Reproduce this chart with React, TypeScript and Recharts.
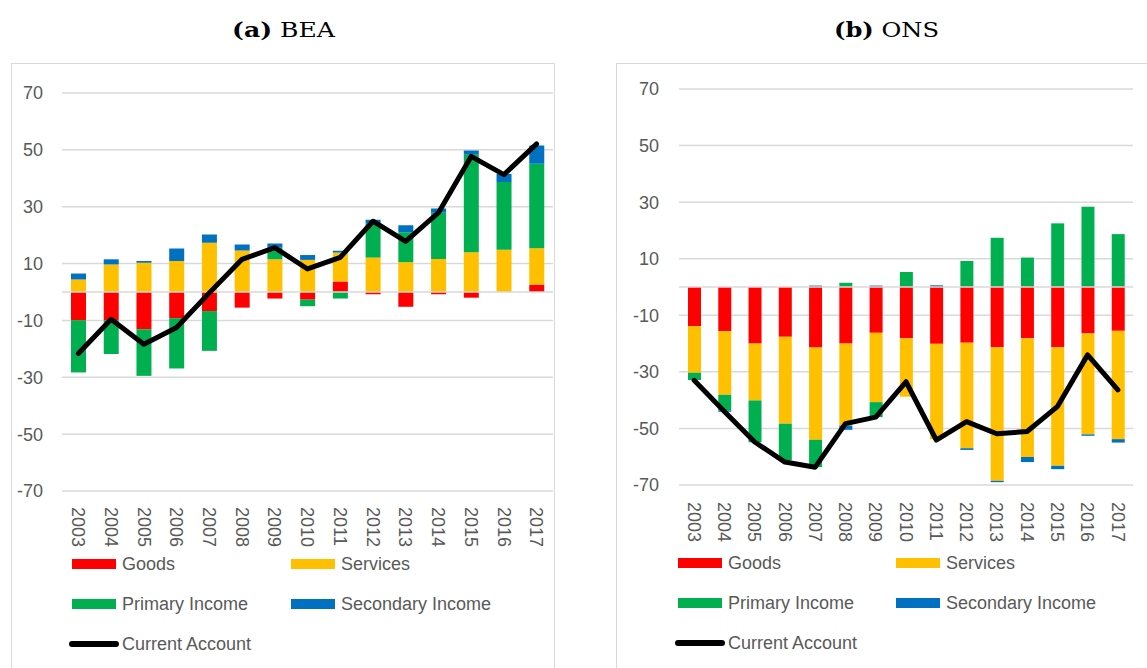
import React from 'react';
import { ComposedChart, Bar, Line, XAxis, YAxis, CartesianGrid, ReferenceLine } from 'recharts';

const years = ['2003', '2004', '2005', '2006', '2007', '2008', '2009', '2010', '2011', '2012', '2013', '2014', '2015', '2016', '2017'];
const yTicks = [-70, -50, -30, -10, 10, 30, 50, 70];

// (a) BEA
const beaGoods = [-9.9, -9.9, -13.1, -9.2, -6.7, -5.5, -2.3, -2.7, 3.7, -0.8, -5.2, -0.8, -2.0, 0, 2.6];
const beaServices = [4.4, 9.7, 10.3, 10.9, 17.3, 14.6, 11.5, 11.3, 10.2, 12.1, 10.5, 11.6, 14.0, 14.9, 12.8];
const beaPrimary = [-18.4, -11.9, -16.4, -17.7, -14.0, 0, 4.1, -2.3, -2.3, 12.1, 10.5, 16.3, 34.3, 23.8, 29.7];
const beaSecondary = [2.1, 1.8, 0.6, 4.4, 2.9, 2.1, 1.5, 1.7, 0.6, 1.2, 2.5, 1.5, 1.5, 2.8, 6.4];
const beaCurrent = [-21.6, -9.6, -18.4, -12.5, -0.3, 11.5, 15.6, 8.1, 12.2, 24.9, 17.8, 27.9, 47.7, 41.3, 52.1];

// (b) ONS
const onsGoods = [-13.8, -15.6, -20.0, -17.6, -21.4, -20.0, -16.2, -18.1, -20.1, -19.7, -21.3, -18.1, -21.3, -16.4, -15.5];
const onsServices = [-16.5, -22.5, -20.1, -30.7, -32.6, -29.0, -24.5, -20.7, -33.6, -37.3, -47.2, -42.0, -41.9, -35.7, -38.3];
const onsPrimary = [-2.6, -5.5, -14.8, -13.0, -9.7, 1.5, -5.3, 5.3, 0, 9.2, 17.4, 10.4, 22.5, 28.4, 18.7];
const onsSecondary = [0, -0.5, 0, 0, 0.5, -1.5, 0.5, 0, 0.6, -0.6, -0.5, -1.8, -1.2, -0.5, -1.2];
const onsCurrent = [-33.0, -44.0, -54.8, -61.9, -63.7, -48.3, -46.0, -33.5, -54.1, -47.6, -51.9, -51.1, -42.3, -24.0, -36.4];

const COLORS = {
  goods: '#FF0000',
  services: '#FFC000',
  primary: '#00B050',
  secondary: '#0070C0',
  current: '#000000',
};

const LABEL_FONT = '"Liberation Sans", Arial, sans-serif';
const TEXT_COLOR = '#595959';

const build = (g: number[], s: number[], p: number[], sec: number[], ca: number[]) =>
  years.map((year, i) => ({ year, goods: g[i], services: s[i], primary: p[i], secondary: sec[i], current: ca[i] }));

const beaData = build(beaGoods, beaServices, beaPrimary, beaSecondary, beaCurrent);
const onsData = build(onsGoods, onsServices, onsPrimary, onsSecondary, onsCurrent);

const makeYearTick = (offset: number) => (props: any) => {
  const { x, y, payload } = props;
  return (
    <g transform={`translate(${x},${y})`}>
      <text
        transform="rotate(90)"
        x={offset}
        y={0}
        dy="0.35em"
        textAnchor="start"
        fill={TEXT_COLOR}
        fontSize={18}
        fontFamily={LABEL_FONT}
      >
        {payload.value}
      </text>
    </g>
  );
};

type PanelProps = {
  data: any[];
  width: number;
  height: number;
  margin: { top: number; right: number; left: number; bottom: number };
  yAxisWidth: number;
  yTickMargin: number;
  barSize: number;
  labelOffset: number;
};

const Panel = ({ data, width, height, margin, yAxisWidth, yTickMargin, barSize, labelOffset }: PanelProps) => (
  <ComposedChart width={width} height={height} data={data} margin={margin} stackOffset="sign">
    <CartesianGrid horizontal vertical={false} stroke="#d9d9d9" strokeWidth={1.5} />
    <XAxis
      dataKey="year"
      interval={0}
      tickLine={false}
      axisLine={false}
      tickSize={0}
      tickMargin={0}
      height={60}
      tick={makeYearTick(labelOffset)}
    />
    <YAxis
      type="number"
      domain={[-70, 70]}
      ticks={yTicks}
      width={yAxisWidth}
      tickLine={false}
      axisLine={false}
      tickSize={0}
      tickMargin={yTickMargin}
      tick={{ fill: TEXT_COLOR, fontSize: 18, fontFamily: LABEL_FONT }}
      allowDataOverflow
    />
    <ReferenceLine y={0} stroke="#d9d9d9" strokeWidth={1.5} />
    <Bar dataKey="goods" stackId="a" fill={COLORS.goods} barSize={barSize} isAnimationActive={false} />
    <Bar dataKey="services" stackId="a" fill={COLORS.services} barSize={barSize} isAnimationActive={false} />
    <Bar dataKey="primary" stackId="a" fill={COLORS.primary} barSize={barSize} isAnimationActive={false} />
    <Bar dataKey="secondary" stackId="a" fill={COLORS.secondary} barSize={barSize} isAnimationActive={false} />
    <Line
      type="linear"
      dataKey="current"
      stroke={COLORS.current}
      strokeWidth={5}
      strokeLinejoin="round"
      strokeLinecap="round"
      dot={false}
      activeDot={false}
      isAnimationActive={false}
    />
  </ComposedChart>
);

type LegendLayout = { x1: number; x2: number; rows: number[] };

const legendItems = [
  { key: 'goods', label: 'Goods', kind: 'rect', row: 0, col: 0 },
  { key: 'services', label: 'Services', kind: 'rect', row: 0, col: 1 },
  { key: 'primary', label: 'Primary Income', kind: 'rect', row: 1, col: 0 },
  { key: 'secondary', label: 'Secondary Income', kind: 'rect', row: 1, col: 1 },
  { key: 'current', label: 'Current Account', kind: 'line', row: 2, col: 0 },
];

const LegendBlock = ({ layout }: { layout: LegendLayout }) => (
  <>
    {legendItems.map((it) => {
      const left = it.col === 0 ? layout.x1 : layout.x2;
      const top = layout.rows[it.row];
      const color = (COLORS as any)[it.key];
      return (
        <div
          key={it.key}
          style={{
            position: 'absolute',
            left: it.kind === 'line' ? left - 3 : left,
            top: top - 12,
            height: 24,
            display: 'flex',
            alignItems: 'center',
            whiteSpace: 'nowrap',
          }}
        >
          {it.kind === 'rect' ? (
            <div style={{ width: 44, height: 10, background: color }} />
          ) : (
            <div style={{ width: 50, height: 6, background: color, borderRadius: 3 }} />
          )}
          <span
            style={{
              marginLeft: it.kind === 'rect' ? 6 : 3,
              fontFamily: LABEL_FONT,
              fontSize: 18,
              color: TEXT_COLOR,
              lineHeight: '24px',
            }}
          >
            {it.label}
          </span>
        </div>
      );
    })}
  </>
);

export default function App() {
  return (
    <div
      style={{
        position: 'absolute',
        left: 0,
        top: 0,
        width: 1147,
        height: 668,
        background: '#ffffff',
        overflow: 'hidden',
      }}
    >
      <svg width={1147} height={50} style={{ position: 'absolute', left: 0, top: 0 }}>
        <text x={232} y={37} textLength={103} lengthAdjust="spacingAndGlyphs" fontFamily='"DejaVu Serif", "Liberation Serif", serif' fontSize={21} fill="#000">
          <tspan fontWeight="bold">(a)</tspan> BEA
        </text>
        <text x={834} y={37} textLength={105} lengthAdjust="spacingAndGlyphs" fontFamily='"DejaVu Serif", "Liberation Serif", serif' fontSize={21} fill="#000">
          <tspan fontWeight="bold">(b)</tspan> ONS
        </text>
      </svg>

      {/* Panel (a) */}
      <div
        style={{
          position: 'absolute',
          left: 11,
          top: 63,
          width: 544,
          height: 620,
          border: '1px solid #d9d9d9',
          boxSizing: 'border-box',
        }}
      />
      <div style={{ position: 'absolute', left: 11, top: 63 }}>
        <Panel
          data={beaData}
          width={544}
          height={490}
          margin={{ top: 30, right: 2, left: 0, bottom: 2 }}
          yAxisWidth={51}
          yTickMargin={19}
          barSize={15}
          labelOffset={16}
        />
      </div>
      <LegendBlock layout={{ x1: 72, x2: 291, rows: [564, 604, 644] }} />

      {/* Panel (b) */}
      <div
        style={{
          position: 'absolute',
          left: 616,
          top: 63,
          width: 620,
          height: 620,
          border: '1px solid #d9d9d9',
          boxSizing: 'border-box',
        }}
      />
      <div style={{ position: 'absolute', left: 616, top: 63 }}>
        <Panel
          data={onsData}
          width={531}
          height={484}
          margin={{ top: 26, right: 14, left: 0, bottom: 2 }}
          yAxisWidth={63}
          yTickMargin={20}
          barSize={13}
          labelOffset={17}
        />
      </div>
      <LegendBlock layout={{ x1: 678, x2: 896, rows: [563, 603, 643] }} />
    </div>
  );
}
